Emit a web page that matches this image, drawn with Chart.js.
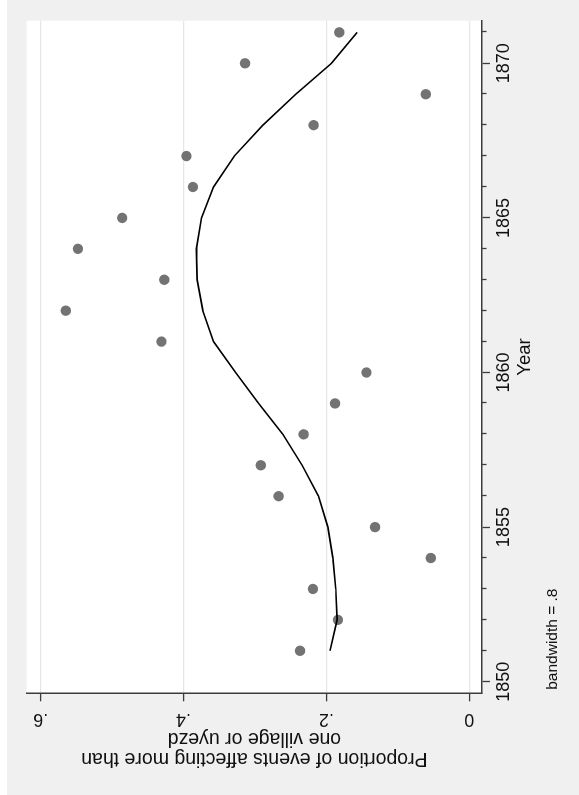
<!DOCTYPE html>
<html>
<head>
<meta charset="utf-8">
<title>Lowess smoother: proportion of events by year</title>
<script src="https://cdn.jsdelivr.net/npm/chart.js@4/dist/chart.umd.min.js"></script>
<style>
  html, body { margin: 0; padding: 0; background: #ffffff; width: 579px; height: 795px; overflow: hidden; }
  /* the graph is laid out landscape and turned a quarter turn counter-clockwise */
  #frame {
    position: absolute; left: 0; top: 0;
    width: 795px; height: 579px;
    transform-origin: 0 0;
    transform: translate(0px, 795px) rotate(-90deg);
  }
  canvas { display: block; }
</style>
</head>
<body>
<div id="frame"><canvas id="chart" width="795" height="579"></canvas></div>
<script>
// Observed share of events per year
const years = [1851, 1852, 1853, 1854, 1855, 1856, 1857, 1858, 1859, 1860, 1861,
               1862, 1863, 1864, 1865, 1866, 1867, 1868, 1869, 1870, 1871];
const proportion = [0.237, 0.184, 0.219, 0.054, 0.132, 0.267, 0.292, 0.232, 0.188, 0.144, 0.431,
                    0.565, 0.427, 0.548, 0.486, 0.387, 0.396, 0.218, 0.061, 0.314, 0.182];
// Lowess smooth (bandwidth .8) evaluated at each year
const lowessFit = [0.195, 0.185, 0.187, 0.191, 0.198, 0.211, 0.234, 0.261, 0.295, 0.327, 0.358,
                   0.373, 0.381, 0.382, 0.375, 0.358, 0.329, 0.289, 0.243, 0.193, 0.157];

// Axis ticks and labels
const yearTicks = [1850, 1855, 1860, 1865, 1870];
const yearTickLabels = ['1850', '1855', '1860', '1865', '1870'];
const propTicks = [0, 0.2, 0.4, 0.6];
const propTickLabels = ['0', '.2', '.4', '.6'];

const xTitle = 'Year';
const yTitle = ['Proportion of events affecting more than', 'one village or uyezd'];
const noteText = 'bandwidth = .8';

const FAMILY = '"Liberation Sans", Arial, Helvetica, sans-serif';
const INK = '#111111';
const AXIS = '#3c3c3c';

// Outer grey panel with a white plot region
const panelBackground = {
  id: 'panelBackground',
  beforeDraw(chart) {
    const { ctx, width, height, chartArea } = chart;
    ctx.save();
    ctx.fillStyle = '#ffffff';
    ctx.fillRect(0, 0, width, height);
    ctx.fillStyle = '#f0f0f0';
    ctx.fillRect(0, 7, width, height - 7);
    ctx.fillStyle = '#ffffff';
    ctx.fillRect(chartArea.left, chartArea.top, chartArea.right - chartArea.left, chartArea.bottom - chartArea.top);
    ctx.restore();
  }
};

// Short minor ticks on every year between the labelled ones, plus the note line
const minorTicksAndNote = {
  id: 'minorTicksAndNote',
  afterDraw(chart) {
    const { ctx } = chart;
    const xs = chart.scales.x;
    ctx.save();
    ctx.strokeStyle = AXIS;
    ctx.lineWidth = 1.3;
    for (let v = Math.ceil(xs.min); v <= xs.max; v++) {
      if (yearTicks.includes(v)) continue;
      const px = Math.round(xs.getPixelForValue(v)) + 0.5;
      ctx.beginPath();
      ctx.moveTo(px, xs.top);
      ctx.lineTo(px, xs.top + 4.5);
      ctx.stroke();
    }
    ctx.fillStyle = INK;
    ctx.font = '15.5px ' + FAMILY;
    ctx.textAlign = 'left';
    ctx.textBaseline = 'alphabetic';
    ctx.fillText(noteText, chart.chartArea.left + 3.5, 557);
    ctx.restore();
  }
};

new Chart(document.getElementById('chart'), {
  type: 'scatter',
  data: {
    datasets: [
      {
        label: 'lowess',
        data: years.map((yr, i) => ({ x: yr, y: lowessFit[i] })),
        showLine: true,
        borderColor: '#000000',
        borderWidth: 1.6,
        pointRadius: 0,
        tension: 0,
        fill: false
      },
      {
        label: 'proportion',
        data: years.map((yr, i) => ({ x: yr, y: proportion[i] })),
        showLine: false,
        pointRadius: 5.2,
        pointBackgroundColor: '#737373',
        pointBorderWidth: 0,
        pointHoverRadius: 5.2
      }
    ]
  },
  options: {
    responsive: false,
    animation: false,
    devicePixelRatio: 1,
    events: [],
    layout: { padding: { top: 26.7, right: 20.7, left: 0, bottom: 0 } },
    plugins: { legend: { display: false }, tooltip: { enabled: false } },
    scales: {
      x: {
        type: 'linear',
        position: 'bottom',
        min: 1849.625,
        max: 1871.378,
        afterBuildTicks: (scale) => { scale.ticks = yearTicks.map(v => ({ value: v })); },
        afterFit: (scale) => { scale.height = 97; },
        ticks: {
          callback: (v, i) => yearTickLabels[i],
          autoSkip: false,
          minRotation: 0,
          maxRotation: 0,
          padding: 3,
          color: INK,
          font: { family: FAMILY, size: 18 }
        },
        grid: { drawOnChartArea: false, tickLength: 8, tickColor: AXIS, tickWidth: 1.3 },
        border: { color: AXIS, width: 1.5 },
        title: {
          display: true,
          text: xTitle,
          color: INK,
          font: { family: FAMILY, size: 18.5, lineHeight: 1 },
          padding: { top: 0, bottom: 44.75 }
        }
      },
      y: {
        type: 'linear',
        position: 'left',
        min: -0.0178,
        max: 0.6196,
        afterBuildTicks: (scale) => { scale.ticks = propTicks.map(v => ({ value: v })); },
        afterFit: (scale) => { scale.width = 101.7; },
        ticks: {
          callback: (v, i) => propTickLabels[i],
          autoSkip: false,
          minRotation: 90,
          maxRotation: 90,
          crossAlign: 'center',
          padding: 10.4,
          color: INK,
          font: { family: FAMILY, size: 18 }
        },
        grid: { color: '#e6e6e6', lineWidth: 1.2, tickLength: 8, tickColor: AXIS, tickWidth: 1.3 },
        border: { color: AXIS, width: 1.5 },
        title: {
          display: true,
          text: yTitle,
          color: INK,
          font: { family: FAMILY, size: 19.5, lineHeight: 1 },
          padding: { top: 27, bottom: 0 }
        }
      }
    }
  },
  plugins: [panelBackground, minorTicksAndNote]
});
</script>
</body>
</html>
